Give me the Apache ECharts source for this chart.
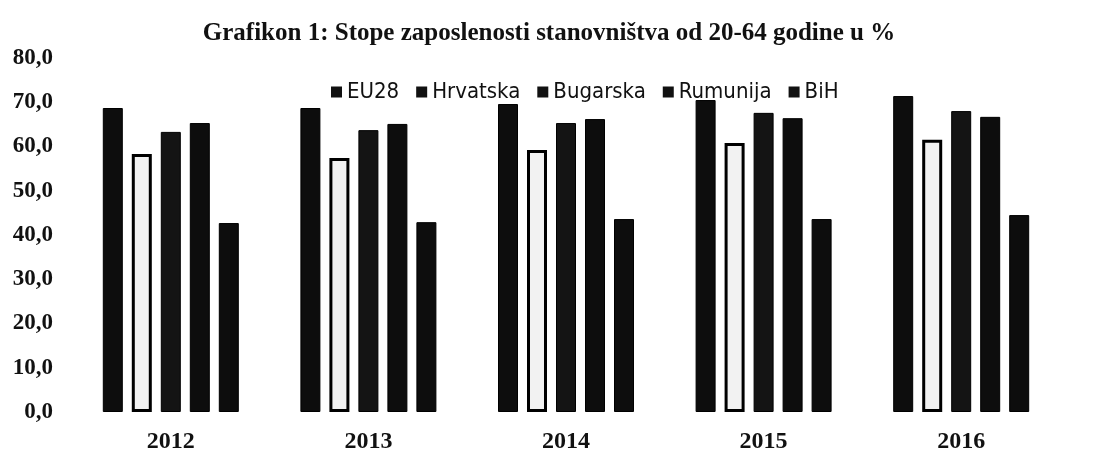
<!DOCTYPE html>
<html>
<head>
<meta charset="utf-8">
<script src="https://cdn.jsdelivr.net/npm/echarts@6/dist/echarts.min.js"></script>
<style>
  html, body { margin: 0; padding: 0; background: #fff; }
  #chart { width: 1098px; height: 459px; }
</style>
</head>
<body>
<div id="chart"></div>
<script>
const years = ['2012', '2013', '2014', '2015', '2016'];
const seriesNames = ['EU28', 'Hrvatska', 'Bugarska', 'Rumunija', 'BiH'];
const eu28 = [68.7, 68.7, 69.6, 70.5, 71.4];
const hrvatska = [58.3, 57.4, 59.2, 60.8, 61.5];
const bugarska = [63.3, 63.7, 65.3, 67.6, 68.0];
const rumunija = [65.3, 65.1, 66.2, 66.4, 66.7];
const bih = [42.7, 42.9, 43.6, 43.6, 44.5];

const values = [eu28, hrvatska, bugarska, rumunija, bih];
const fills = ['#0d0d0d', '#f2f2f2', '#141414', '#0d0d0d', '#0d0d0d'];

const chart = echarts.init(document.getElementById('chart'), null, { renderer: 'canvas' });

const serif = 'Liberation Serif';

chart.setOption({
  animation: false,
  title: {
    text: 'Grafikon 1: Stope zaposlenosti stanovništva od 20-64 godine u %',
    left: 'center',
    top: 16,
    textStyle: { fontFamily: serif, fontWeight: 'bold', fontSize: 25, color: '#111' }
  },
  legend: {
    data: seriesNames.map(n => ({ name: n, itemStyle: { color: '#111', borderWidth: 0 } })),
    top: 76,
    left: 326,
    itemWidth: 11,
    itemHeight: 11,
    itemGap: 17,
    icon: 'rect',
    textStyle: { fontFamily: 'DejaVu Sans Condensed', fontSize: 22, color: '#111' }
  },
  grid: { left: 72, right: 38, top: 58, bottom: 47 },
  xAxis: {
    type: 'category',
    data: years,
    axisLine: { show: false },
    axisTick: { show: false },
    axisLabel: { fontFamily: serif, fontWeight: 'bold', fontSize: 24, color: '#111', margin: 18 }
  },
  yAxis: {
    type: 'value',
    min: 0,
    max: 80,
    interval: 10,
    splitLine: { show: false },
    axisLine: { show: false },
    axisTick: { show: false },
    axisLabel: {
      fontFamily: serif, fontWeight: 'bold', fontSize: 23, color: '#111', margin: 19,
      padding: [6, 0, 0, 0],
      formatter: v => v.toFixed(1).replace('.', ',')
    }
  },
  series: seriesNames.map((name, i) => ({
    name: name,
    type: 'bar',
    data: values[i],
    barWidth: 20,
    barGap: '45%',
    itemStyle: { color: fills[i], borderColor: '#000', borderWidth: i === 1 ? 3 : 1 }
  }))
});
</script>
</body>
</html>
